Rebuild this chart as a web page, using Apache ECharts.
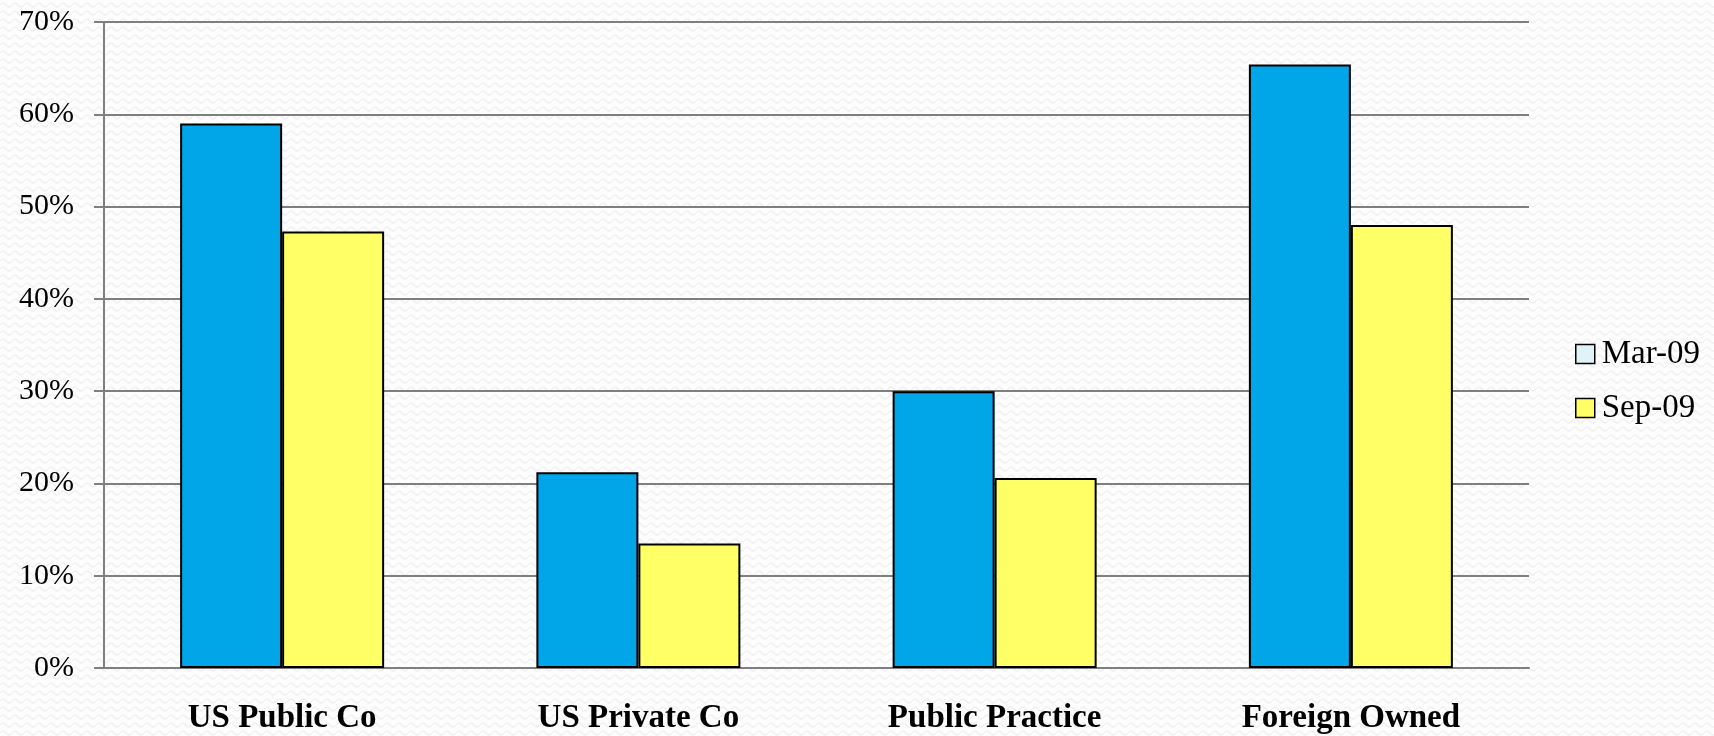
<!DOCTYPE html>
<html>
<head>
<meta charset="utf-8">
<script src="https://cdn.jsdelivr.net/npm/echarts@6/dist/echarts.min.js"></script>
<style>
html,body{margin:0;padding:0;width:1714px;height:736px;overflow:hidden;
background-color:#fdfdfd;
background-image:url("data:image/svg+xml;utf8,<svg xmlns='http://www.w3.org/2000/svg' width='12' height='8'><path d='M0 5 Q3 1 6 5 T12 5' fill='none' stroke='%23f0f0f0' stroke-width='1.4'/></svg>");}
#chart{width:1714px;height:736px;}
</style>
</head>
<body>
<div id="chart"></div>
<script>
const categories = ['US Public Co', 'US Private Co', 'Public Practice', 'Foreign Owned'];
const seriesNames = ['Mar-09', 'Sep-09'];
const mar09 = [59.0, 21.2, 30.0, 65.4];
const sep09 = [47.3, 13.5, 20.6, 48.0];
const yTicks = [0, 10, 20, 30, 40, 50, 60, 70];

const chart = echarts.init(document.getElementById('chart'), null, {renderer: 'canvas'});
const serif = '"Liberation Serif", "DejaVu Serif", serif';
chart.setOption({
  backgroundColor: 'transparent',
  animation: false,
  grid: {left: 104, right: 185, top: 22, bottom: 68, containLabel: false},
  legend: {
    orient: 'vertical',
    left: 1570,
    top: 331,
    icon: 'rect',
    itemWidth: 19,
    itemHeight: 19,
    itemGap: 18,
    textStyle: {fontFamily: serif, fontSize: 33, lineHeight: 36, color: '#000', padding: [0, 0, 0, 2]},
    data: [
      {name: seriesNames[0], itemStyle: {color: '#dff3f8', borderColor: '#000', borderWidth: 1.5}},
      {name: seriesNames[1], itemStyle: {color: '#ffff66', borderColor: '#000', borderWidth: 1.5}}
    ]
  },
  xAxis: {
    type: 'category',
    data: categories,
    axisLine: {lineStyle: {color: '#7f7f7f', width: 2}},
    axisTick: {show: false},
    axisLabel: {fontFamily: serif, fontWeight: 'bold', fontSize: 33, color: '#000', margin: 34}
  },
  yAxis: {
    type: 'value',
    min: yTicks[0],
    max: yTicks[yTicks.length - 1],
    interval: 10,
    axisLine: {show: true, lineStyle: {color: '#7f7f7f', width: 2}},
    axisTick: {show: true, length: 10, lineStyle: {color: '#7f7f7f', width: 2}},
    splitLine: {lineStyle: {color: '#7f7f7f', width: 2}},
    axisLabel: {fontFamily: serif, fontSize: 30, color: '#000', margin: 30,
      formatter: v => v + '%'}
  },
  series: [
    {name: seriesNames[0], type: 'bar', data: mar09, barWidth: 102, barGap: '0%',
      itemStyle: {color: '#00a6e8', borderColor: '#000', borderWidth: 2}},
    {name: seriesNames[1], type: 'bar', data: sep09, barWidth: 102, barGap: '0%',
      itemStyle: {color: '#ffff66', borderColor: '#000', borderWidth: 2}}
  ]
});
</script>
</body>
</html>
